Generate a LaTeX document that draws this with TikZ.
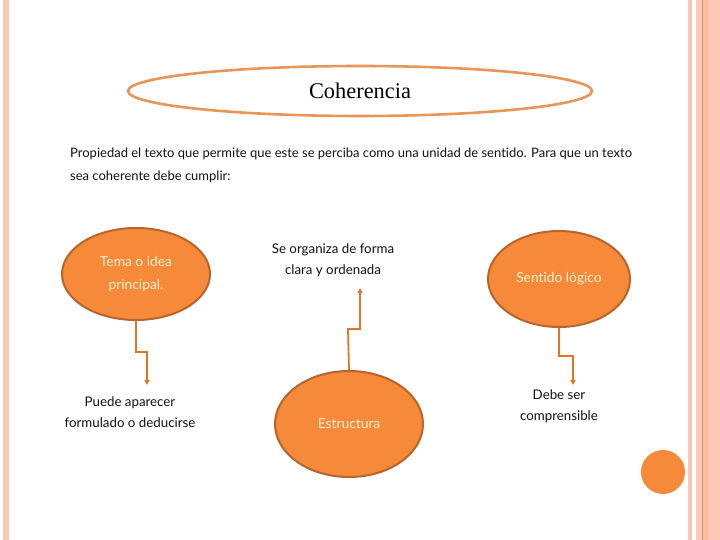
\documentclass[tikz,border=0pt]{standalone}
\usepackage{fontspec}
\setmainfont{Lato}[Ligatures=NoCommon]
\newfontfamily\serifx{Liberation Serif}
\usetikzlibrary{shapes.geometric,arrows.meta}
\definecolor{orfill}{HTML}{F68A3A}
\definecolor{orborder}{HTML}{B9642C}
\definecolor{orline}{HTML}{E07428}
\definecolor{topborder}{HTML}{E8955A}
\definecolor{cream}{HTML}{FFF0D0}
\definecolor{stripe}{HTML}{F8C6B2}
\definecolor{stripeB}{HTML}{FCC9B5}
\definecolor{stripeC}{HTML}{FFBEA6}
\definecolor{stripeD}{HTML}{DE8E66}
\definecolor{txt}{HTML}{111111}
\tikzset{
  bubble/.style={ellipse, draw=orborder, line width=2pt, fill=orfill, text=cream, align=center, font=\fontsize{13.8}{23}\selectfont, inner sep=0pt},
  conn/.style={draw=orline, line width=1.8pt, -{Triangle[length=5pt,width=5pt]}},
  lbl/.style={text=txt, align=center, font=\fontsize{13.3}{21.5}\selectfont},
  para/.style={anchor=west, text=txt, font=\fontsize{13}{15}\selectfont, inner sep=0pt},
}
\begin{document}
\begin{tikzpicture}[x=1pt,y=-1pt]
\useasboundingbox (0,0) rectangle (720,540);
% page decoration stripes
\fill[stripe] (3,0) rectangle (9,540);
\fill[stripe] (688,0) rectangle (692,540);
\fill[stripeB] (696,0) rectangle (720,540);
\fill[stripeC] (703,0) rectangle (709,540);
\fill[stripeD] (701.8,0) rectangle (702.8,540);
% title
\node[ellipse, draw=topborder, line width=2.6pt, minimum width=464pt, minimum height=50pt, inner sep=0pt, font=\serifx\fontsize{22.4}{26}\selectfont, text=black] (title) at (360,91) {Coherencia};
% paragraph
\node[para] (p1) at (70,154) {Propiedad el texto que permite que este se perciba como una unidad de sentido. Para que un texto};
\node[para] (p2) at (70,177) {sea coherente debe cumplir:};
% bubbles
\node[bubble, minimum width=148pt, minimum height=92pt] (tema) at (136,274) {Tema o idea\\principal.};
\node[bubble, minimum width=148pt, minimum height=106pt] (estr) at (349,424) {Estructura};
\node[bubble, minimum width=142pt, minimum height=96pt] (sent) at (559,279) {Sentido lógico};
% labels
\node[lbl] (puede) at (130,412) {Puede aparecer\\formulado o deducirse};
\node[lbl] (orga) at (333,260) {Se organiza de forma\\clara y ordenada};
\node[lbl] (debe) at (559,406) {Debe ser\\comprensible};
% connectors
\coordinate (c1) at (147,385);
\coordinate (c2) at (360,288);
\coordinate (c3) at (573,385);
\draw[conn] (tema.south) -- (136,352) -- (147,352) -- (c1);
\draw[conn] (estr.north) -- (348,329) -- (360,329) -- (c2);
\draw[conn] (sent.south) -- (559,356) -- (573,356) -- (c3);
% decorative dot
\fill[orfill] (663,472) circle (22);
\end{tikzpicture}
\end{document}
